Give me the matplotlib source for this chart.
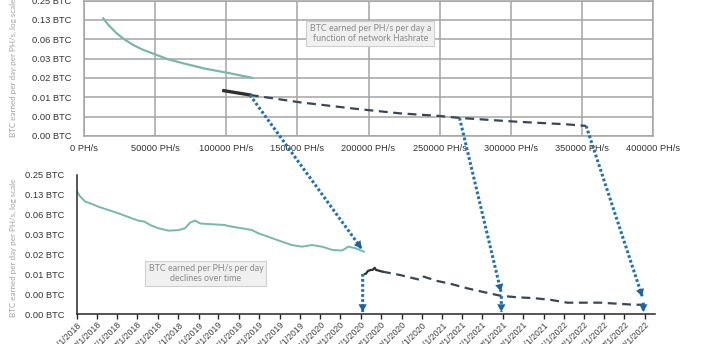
import matplotlib
matplotlib.use("Agg")
import matplotlib.pyplot as plt
import matplotlib.dates as mdates
from matplotlib.patches import ConnectionPatch
from matplotlib.ticker import FixedLocator, FuncFormatter
from decimal import Decimal, ROUND_HALF_UP
import pandas as pd

# top chart: BTC per PH/s per day vs network hashrate
hash_teal = [13550, 17000, 22960, 28000, 34620, 41000, 49860, 59000, 69730, 85000, 100200, 118190]
val_teal = [0.132, 0.105, 0.077, 0.063, 0.0508, 0.0432, 0.0364, 0.0305, 0.0264, 0.0218, 0.0189, 0.0157]
hash_solid = [98300, 116600]
val_solid = [0.0099, 0.0085]
hash_dash = [116600, 151700, 190000, 221900, 250000, 264000, 303900, 339000, 353000]
val_dash = [0.0085, 0.00653, 0.0052, 0.0044, 0.0040, 0.00373, 0.00326, 0.00297, 0.0028]

# bottom chart: BTC per PH/s per day over time
dates_teal = ["2018-01-01", "2018-01-11", "2018-01-26", "2018-02-15", "2018-03-05", "2018-04-04",
              "2018-05-04", "2018-06-03", "2018-07-03", "2018-07-23", "2018-08-08", "2018-09-02",
              "2018-10-02", "2018-11-01", "2018-11-21", "2018-12-06", "2018-12-21", "2019-01-06",
              "2019-02-20", "2019-03-20", "2019-03-30", "2019-05-09", "2019-06-09", "2019-06-29",
              "2019-07-28", "2019-09-08", "2019-10-07", "2019-11-07", "2019-12-07", "2020-01-06",
              "2020-02-06", "2020-03-06", "2020-03-25", "2020-04-15", "2020-05-11"]
vals_teal = [0.140, 0.117, 0.0985, 0.091, 0.083, 0.074, 0.066, 0.058, 0.051, 0.049, 0.0437, 0.039,
             0.0358, 0.0365, 0.039, 0.0473, 0.051, 0.046, 0.0445, 0.0437, 0.0422, 0.039, 0.0367, 0.0327,
             0.0290, 0.0244, 0.0217, 0.0205, 0.0217, 0.0205, 0.0183, 0.0179, 0.0205, 0.0194, 0.0172]
dates_solid = ["2020-05-14", "2020-05-17", "2020-05-23", "2020-06-01", "2020-06-06", "2020-06-12",
               "2020-06-16", "2020-06-27", "2020-07-04"]
vals_solid = [0.0079, 0.0080, 0.0088, 0.0091, 0.0091, 0.0098, 0.0091, 0.0088, 0.0086]
dates_dash = ["2020-07-04", "2020-08-28", "2020-10-17", "2020-10-29", "2020-11-06", "2020-12-16",
              "2021-01-26", "2021-03-16", "2021-05-05", "2021-06-24", "2021-08-13", "2021-10-02",
              "2021-11-22", "2022-01-11", "2022-03-01", "2022-04-20", "2022-06-09", "2022-07-29",
              "2022-08-28"]
vals_dash = [0.0086, 0.0076, 0.0066, 0.0064, 0.0072, 0.0062, 0.0056, 0.0048, 0.0042, 0.0037, 0.0035,
             0.0034, 0.0032, 0.0029, 0.0029, 0.0029, 0.0028, 0.0027, 0.0027]

# arrows linking the two charts
arrow_from_hash = [116600, 264000, 353000]
arrow_from_val = [0.0085, 0.00373, 0.0028]
arrow_to_date = ["2020-05-04", "2021-06-26", "2022-08-24"]
arrow_to_val = [0.019, 0.00425, 0.00358]
drop_date = ["2020-05-07", "2021-06-27", "2022-08-27"]
drop_from = [0.0079, 0.00365, 0.0029]
drop_to = [0.0021, 0.0021, 0.0021]

y_ticks = [0.25 / 2 ** k for k in range(8)]
x_ticks_top = list(range(0, 400001, 50000))

tick_font = ["Liberation Sans", "DejaVu Sans"]
note_font = ["Lato", "DejaVu Sans"]
teal = "#78b8ab"
dark = "#303030"
dashc = "#3a4656"
blue = "#2371ac"
head_blue = "#1f64a0"


def btc(v, pos):
    # excel-style rounding (0.125 -> 0.13)
    return str(Decimal(float(v)).quantize(Decimal("0.01"), rounding=ROUND_HALF_UP)) + " BTC"


fig = plt.figure(figsize=(7.07, 3.44), dpi=100)
W, H = 707, 344
ax1 = fig.add_axes([84 / W, 1 - 136 / H, 569 / W, 135.5 / H])
ax2 = fig.add_axes([77 / W, 1 - 314 / H, 578 / W, 139 / H])

# ---- top chart
ax1.plot(hash_teal, val_teal, color=teal, lw=1.6)
ax1.plot(hash_solid, val_solid, color=dark, lw=2.4)
ax1.plot(hash_dash, val_dash, color=dashc, lw=1.6, ls=(0, (4, 2.5)))
ax1.set_yscale("log", base=2)
ax1.set_ylim(y_ticks[-1], y_ticks[0])
ax1.set_xlim(0, 400000)
ax1.yaxis.set_major_locator(FixedLocator(y_ticks))
ax1.yaxis.set_minor_locator(FixedLocator([]))
ax1.yaxis.set_major_formatter(FuncFormatter(btc))
ax1.set_xticks(x_ticks_top)
ax1.set_xticklabels([f"{v} PH/s" for v in x_ticks_top])
ax1.grid(True, color="#a4a4a4", lw=1.1)
ax1.set_axisbelow(True)
for s in ax1.spines.values():
    s.set_color("#a4a4a4")
    s.set_linewidth(1.1)
ax1.tick_params(length=0, labelsize=6.7, colors="#333333")
ax1.tick_params(axis="x", pad=6)
ax1.tick_params(axis="y", pad=9)
for lab in ax1.get_xticklabels() + ax1.get_yticklabels():
    lab.set_family(tick_font)
ax1.set_ylabel("BTC earned per day per PH/s, log scale", family=note_font, fontsize=5.8, color="#a0a0a0")
ax1.yaxis.set_label_coords(-0.118, 0.5)
ax1.text(0.503, 0.756, "BTC earned per PH/s per day a\nfunction of network Hashrate", transform=ax1.transAxes,
         ha="center", va="center", fontsize=6.4, family=note_font, color="#8a8a8a", linespacing=1.1,
         bbox=dict(boxstyle="square,pad=0.35", fc="#f0f0f0", ec="#cfcfcf", lw=0.8))

# ---- bottom chart
ax2.plot(pd.to_datetime(dates_teal), vals_teal, color=teal, lw=1.4)
ax2.plot(pd.to_datetime(dates_solid), vals_solid, color=dark, lw=1.6)
ax2.plot(pd.to_datetime(dates_dash), vals_dash, color=dashc, lw=1.6, ls=(0, (4, 2.5)))
ax2.set_yscale("log", base=2)
ax2.set_ylim(y_ticks[-1], y_ticks[0])
ax2.set_xlim(pd.Timestamp("2018-01-01"), pd.Timestamp("2022-10-01"))
ax2.yaxis.set_major_locator(FixedLocator(y_ticks))
ax2.yaxis.set_minor_locator(FixedLocator([]))
ax2.yaxis.set_major_formatter(FuncFormatter(btc))
ax2.xaxis.set_major_locator(mdates.MonthLocator(bymonth=(1, 3, 5, 7, 9, 11)))
ax2.xaxis.set_major_formatter(FuncFormatter(lambda v, p: "{0.month}/{0.day}/{0.year}".format(mdates.num2date(v))))
for side in ("top", "right"):
    ax2.spines[side].set_visible(False)
for side in ("left", "bottom"):
    ax2.spines[side].set_color("#262626")
    ax2.spines[side].set_linewidth(1.1)
ax2.tick_params(axis="y", length=0, labelsize=6.7, colors="#333333", pad=9)
ax2.tick_params(axis="x", length=3.5, width=1, color="#262626", labelsize=6.3, labelcolor="#404040", pad=1)
for lab in ax2.get_yticklabels():
    lab.set_family(tick_font)
for lab in ax2.get_xticklabels():
    lab.set_family(tick_font)
    lab.set_rotation(45)
    lab.set_ha("right")
    lab.set_va("top")
    lab.set_rotation_mode("anchor")
ax2.set_ylabel("BTC earned per day per PH/s, log scale", family=note_font, fontsize=5.8, color="#a0a0a0")
ax2.yaxis.set_label_coords(-0.104, 0.475)
ax2.text(0.223, 0.291, "BTC earned per PH/s per day\ndeclines over time", transform=ax2.transAxes,
         ha="center", va="center", fontsize=6.4, family=note_font, color="#8a8a8a", linespacing=1.1,
         bbox=dict(boxstyle="square,pad=0.35", fc="#f0f0f0", ec="#cfcfcf", lw=0.8))

# ---- arrows: dotted shaft + solid filled head drawn separately
shaft_kw = dict(arrowstyle="-", color=blue, lw=2.2, ls=(0, (0.9, 0.75)))
head_kw = dict(arrowstyle="-|>,head_length=0.55,head_width=0.3", color=head_blue, lw=0, mutation_scale=10)


def link(xyA, coordsA, xyB, coordsB):
    for kw in (shaft_kw, head_kw):
        con = ConnectionPatch(xyA=xyA, coordsA=coordsA, xyB=xyB, coordsB=coordsB, **kw)
        con.set_capstyle("butt")
        fig.add_artist(con)


for hx, hv, d, v in zip(arrow_from_hash, arrow_from_val, arrow_to_date, arrow_to_val):
    link((hx, hv), ax1.transData, (mdates.date2num(pd.Timestamp(d)), v), ax2.transData)
for d, v0, v1 in zip(drop_date, drop_from, drop_to):
    x = mdates.date2num(pd.Timestamp(d))
    link((x, v0), ax2.transData, (x, v1), ax2.transData)

fig.savefig("out.png", dpi=100)
